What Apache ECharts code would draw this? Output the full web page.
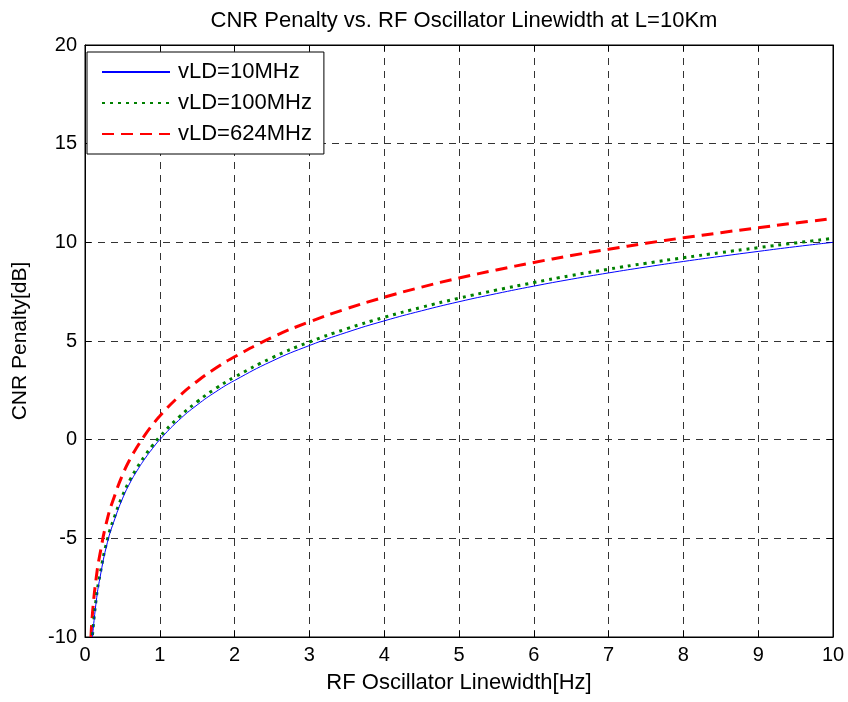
<!DOCTYPE html>
<html>
<head>
<meta charset="utf-8">
<script src="https://cdn.jsdelivr.net/npm/echarts@6/dist/echarts.min.js"></script>
<style>
  html, body { margin: 0; padding: 0; background: #fff; }
  #chart { width: 848px; height: 702px; }
</style>
</head>
<body>
<div id="chart"></div>
<script>
// values
let xBlue = [0.1, 0.15, 0.2, 0.3, 0.4, 0.5, 0.6, 0.7, 0.8, 0.9, 1, 1.25, 1.5, 1.75, 2, 2.5, 3, 3.5, 4, 4.5, 5, 5.5, 6, 6.5, 7, 7.5, 8, 8.5, 9, 9.5, 10];
let blue = [-10, -8.2, -7.0, -5.2, -4.0, -3.0, -2.2, -1.55, -0.97, -0.46, 0, 0.97, 1.76, 2.43, 3.0, 3.98, 4.77, 5.44, 6.02, 6.53, 6.99, 7.4, 7.78, 8.13, 8.45, 8.75, 9.03, 9.29, 9.54, 9.78, 10.0];
let green = [-9.9, -8.05, -6.85, -5.05, -3.85, -2.85, -2.05, -1.4, -0.82, -0.31, 0.15, 1.12, 1.92, 2.6, 3.17, 4.15, 4.95, 5.62, 6.2, 6.71, 7.17, 7.58, 7.96, 8.32, 8.64, 8.94, 9.22, 9.48, 9.73, 9.97, 10.2];
let xRed = [0.08, 0.1, 0.15, 0.2, 0.3, 0.4, 0.5, 0.6, 0.7, 0.8, 0.9, 1, 1.25, 1.5, 1.75, 2, 2.5, 3, 3.5, 4, 4.5, 5, 5.5, 6, 6.5, 7, 7.5, 8, 8.5, 9, 9.5, 10];
let red = [-10, -8.8, -7.0, -5.8, -4.0, -2.8, -1.8, -1.0, -0.35, 0.23, 0.74, 1.2, 2.17, 2.96, 3.63, 4.2, 5.18, 5.97, 6.64, 7.22, 7.73, 8.19, 8.6, 8.98, 9.33, 9.65, 9.95, 10.23, 10.49, 10.74, 10.98, 11.2];
let seriesNames = ['vLD=10MHz', 'vLD=100MHz', 'vLD=624MHz'];

let pairs = (xs, ys) => xs.map((x, i) => [x, ys[i]]);

let chartDom = document.getElementById('chart');
let myChart = echarts.init(chartDom);
let font = 'Liberation Sans, Arial, sans-serif';
let gridLine = { show: true, lineStyle: { color: '#333', type: [7, 6], width: 1 } };
let frameAxis = { show: true, onZero: false, lineStyle: { color: '#000' } };
let inTick = { inside: true, length: 6, lineStyle: { color: '#000' } };

let option = {
    backgroundColor: '#fff',
    animation: false,
    textStyle: { fontFamily: font },
    title: {
        text: 'CNR Penalty vs. RF Oscillator Linewidth at L=10Km',
        left: 459, top: 5, textAlign: 'center',
        textStyle: { fontSize: 22, fontWeight: 'normal', color: '#000', fontFamily: font }
    },
    grid: { left: 85, right: 15, top: 45, bottom: 65, show: true, borderColor: '#000', borderWidth: 1 },
    legend: {
        left: 87, top: 52, orient: 'vertical',
        backgroundColor: '#fff', borderColor: '#000', borderWidth: 1,
        padding: [9, 12, 9, 14], itemGap: 9,
        itemWidth: 68, itemHeight: 14,
        itemStyle: { opacity: 0 },
        textStyle: { fontSize: 22, color: '#000', fontFamily: font, padding: [0, 0, 0, 3] },
        data: seriesNames
    },
    xAxis: [{
        type: 'value', min: 0, max: 10, interval: 1,
        name: 'RF Oscillator Linewidth[Hz]', nameLocation: 'middle', nameGap: 35,
        nameTextStyle: { fontSize: 22, color: '#000' },
        axisLine: frameAxis,
        axisTick: inTick,
        axisLabel: { fontSize: 20, color: '#000', margin: 8 },
        splitLine: gridLine
    }, {
        type: 'value', position: 'top', min: 0, max: 10, interval: 1,
        axisLine: frameAxis, axisTick: inTick,
        axisLabel: { show: false }, splitLine: { show: false }
    }],
    yAxis: [{
        type: 'value', min: -10, max: 20, interval: 5,
        name: 'CNR Penalty[dB]', nameLocation: 'middle', nameGap: 54,
        nameTextStyle: { fontSize: 21, color: '#000' },
        axisLine: frameAxis,
        axisTick: inTick,
        axisLabel: { fontSize: 20, color: '#000', margin: 8 },
        splitLine: gridLine
    }, {
        type: 'value', position: 'right', min: -10, max: 20, interval: 5,
        axisLine: frameAxis, axisTick: inTick,
        axisLabel: { show: false }, splitLine: { show: false }
    }],
    series: [
        {
            name: seriesNames[0], type: 'line', showSymbol: false, symbol: 'none',
            data: pairs(xBlue, blue), smooth: true,
            itemStyle: { color: '#0000ff' },
            lineStyle: { color: '#0000ff', width: 1 }, z: 3
        },
        {
            name: seriesNames[1], type: 'line', showSymbol: false, symbol: 'none',
            data: pairs(xBlue, green), smooth: true,
            itemStyle: { color: '#008000' },
            lineStyle: { color: '#008000', width: 3, type: [3, 5] }, z: 2
        },
        {
            name: seriesNames[2], type: 'line', showSymbol: false, symbol: 'none',
            data: pairs(xRed, red), smooth: true,
            itemStyle: { color: '#ff0000' },
            lineStyle: { color: '#ff0000', width: 3, type: [12, 7] }, z: 1
        }
    ]
};

option && myChart.setOption(option);
</script>
</body>
</html>
